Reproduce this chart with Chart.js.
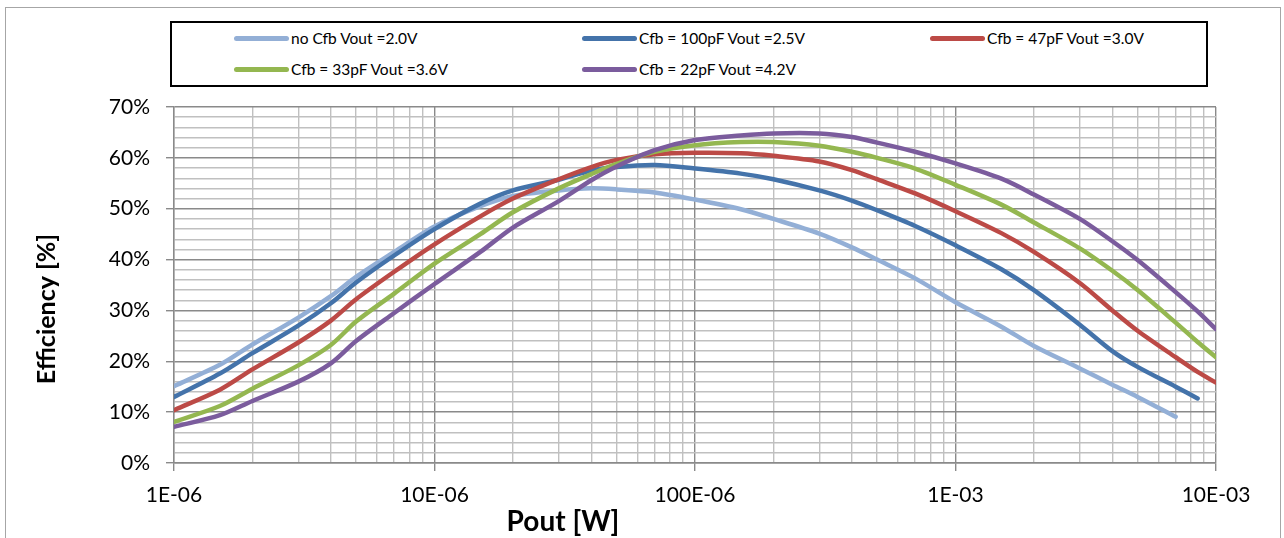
<!DOCTYPE html>
<html>
<head>
<meta charset="utf-8">
<script src="https://cdn.jsdelivr.net/npm/chart.js@4.4.1/dist/chart.umd.min.js"></script>
<style>
  html, body { margin: 0; padding: 0; background: #fff; }
  #wrap { position: relative; width: 1284px; height: 538px; overflow: hidden; font-family: Lato, "Open Sans", sans-serif; }
  #frame { position: absolute; left: 5px; top: 7px; width: 1276px; height: 560px; border: 1.5px solid #a6a6a6; box-sizing: border-box; }
  #c { position: absolute; left: 0; top: 0; }
  #legend { position: absolute; left: 170px; top: 21px; width: 1038px; height: 66px; border: 2px solid #000; box-sizing: border-box; background: #fff; }
  .item { position: absolute; display: flex; align-items: center; font-size: 15.5px; color: #000; white-space: nowrap; }
  .item .swatch { width: 55px; height: 5px; border-radius: 3px; margin-right: 2px; }
</style>
</head>
<body>
<div id="wrap">
  <div id="frame"></div>
  <canvas id="c" width="1284" height="538"></canvas>
  <div id="legend"></div>
</div>
<script>
// output power (W), shared by all curves
const pout = [1e-6, 1.5e-6, 2e-6, 3e-6, 4e-6, 5e-6, 7e-6,
              1e-5, 1.5e-5, 2e-5, 3e-5, 4e-5, 5e-5, 7e-5,
              1e-4, 1.5e-4, 2e-4, 3e-4, 4e-4, 5e-4, 7e-4,
              1e-3, 1.5e-3, 2e-3, 3e-3, 4e-3, 5e-3, 7e-3, 8.5e-3, 1e-2];

// efficiency in %
const effNoCfb = [15.1, 19.3, 23.3, 28.6, 32.8, 36.6, 41.5,
                  46.5, 50.5, 52.5, 53.6, 54.0, 53.8, 53.2,
                  51.8, 49.9, 48.0, 45.1, 42.4, 40.0, 36.3,
                  31.6, 26.8, 23.0, 18.6, 15.4, 13.0, 9.1, null, null];
const effCfb100 = [13.0, 17.6, 21.6, 27.0, 31.4, 35.5, 40.8,
                   46.0, 51.0, 53.6, 55.7, 57.5, 58.2, 58.6,
                   57.9, 56.9, 55.8, 53.6, 51.6, 49.7, 46.6,
                   42.8, 38.1, 34.0, 27.2, 22.0, 18.9, 15.0, 12.7, null];
const effCfb47 = [10.4, 14.4, 18.4, 23.7, 28.0, 32.2, 37.6,
                  43.0, 48.5, 52.0, 55.8, 58.2, 59.6, 60.7,
                  61.0, 60.9, 60.4, 59.3, 57.6, 55.8, 53.0,
                  49.5, 45.2, 41.5, 35.4, 30.0, 26.0, 20.8, 17.9, 15.8];
const effCfb33 = [8.1, 11.2, 14.6, 19.2, 23.2, 27.8, 33.3,
                  39.2, 45.0, 49.3, 54.0, 56.8, 58.8, 61.2,
                  62.5, 63.1, 63.1, 62.4, 61.2, 60.0, 57.9,
                  54.7, 50.8, 47.3, 42.2, 37.8, 34.0, 27.6, 23.8, 20.8];
const effCfb22 = [7.1, 9.4, 12.2, 16.0, 19.6, 24.0, 29.5,
                  35.2, 41.5, 46.3, 51.5, 55.6, 58.3, 61.5,
                  63.5, 64.4, 64.8, 64.8, 64.1, 63.0, 61.2,
                  58.9, 55.9, 52.8, 48.0, 43.6, 39.9, 33.6, 29.8, 26.3];

const seriesNames = ['no Cfb Vout =2.0V', 'Cfb = 100pF Vout =2.5V', 'Cfb = 47pF Vout =3.0V',
                     'Cfb = 33pF Vout =3.6V', 'Cfb = 22pF Vout =4.2V'];
const seriesColors = ['#93afd6', '#4473aa', '#bc4a46', '#94b750', '#7b5c9d'];
const seriesValues = [effNoCfb, effCfb100, effCfb47, effCfb33, effCfb22];

const xDecades = [1e-6, 1e-5, 1e-4, 1e-3, 1e-2];
const xTickLabels = ['1E-06', '10E-06', '100E-06', '1E-03', '10E-03'];

const MAJOR = '#8a8a8a';
const MINOR = '#c0c0c0';

function isDecade(v) {
    const l = Math.log10(v);
    return Math.abs(l - Math.round(l)) < 1e-6;
}

const datasets = seriesValues.map((vals, i) => ({
    label: seriesNames[i],
    data: pout.map((p, j) => ({ x: p, y: vals[j] })).filter(pt => pt.y !== null),
    borderColor: seriesColors[i],
    borderWidth: 4.5,
    pointRadius: 0,
    fill: false,
    tension: 0.3,
    borderCapStyle: 'round',
    borderJoinStyle: 'round',
    order: 4 - i,
}));

const axisTitles = {
    id: 'axisTitles',
    afterDraw(chart) {
        const ctx = chart.ctx;
        const a = chart.chartArea;
        ctx.save();
        ctx.fillStyle = '#000';
        ctx.textAlign = 'center';
        ctx.textBaseline = 'middle';
        ctx.font = 'bold 28px Lato';
        ctx.fillText('Pout [W]', a.left + 389, 522);
        ctx.font = 'bold 25px Lato';
        ctx.translate(47, a.top + 202);
        ctx.rotate(-Math.PI / 2);
        ctx.fillText('Efficiency [%]', 0, 0);
        ctx.restore();
    }
};

const ctx = document.getElementById('c').getContext('2d');
const chart = new Chart(ctx, {
    type: 'line',
    data: { datasets },
    options: {
        responsive: false,
        animation: false,
        devicePixelRatio: 1,
        layout: { padding: { left: 8, top: 107, right: 68, bottom: 0 } },
        plugins: { legend: { display: false }, tooltip: { enabled: false } },
        scales: {
            x: {
                type: 'logarithmic',
                min: 1e-6,
                max: 1e-2,
                afterFit(scale) { scale.height = 75; },
                afterBuildTicks(scale) {
                    const t = [];
                    xDecades.forEach((d, k) => {
                        if (k === xDecades.length - 1) { t.push({ value: d }); return; }
                        for (let m = 1; m <= 9; m++) t.push({ value: m * d });
                    });
                    scale.ticks = t;
                },
                ticks: {
                    autoSkip: false,
                    maxRotation: 0,
                    padding: 12,
                    color: '#000',
                    font: { family: 'Lato', size: 21 },
                    callback(v) {
                        const k = xDecades.findIndex(d => Math.abs(d - v) / d < 1e-6);
                        return k >= 0 ? xTickLabels[k] : '';
                    }
                },
                grid: {
                    color: c => isDecade(c.tick.value) ? MAJOR : MINOR,
                    tickColor: c => isDecade(c.tick.value) ? MAJOR : 'rgba(0,0,0,0)',
                    lineWidth: 1.4,
                    tickLength: 8,
                },
                border: { color: MAJOR, width: 1.4 },
            },
            y: {
                min: 0,
                max: 70,
                afterFit(scale) { scale.width = 166; },
                ticks: {
                    stepSize: 2,
                    autoSkip: false,
                    padding: 16,
                    color: '#000',
                    font: { family: 'Lato', size: 21 },
                    callback(v) { return v % 10 === 0 ? v + '%' : ''; }
                },
                grid: {
                    color: c => c.tick.value % 10 === 0 ? MAJOR : MINOR,
                    tickColor: c => c.tick.value % 10 === 0 ? MAJOR : 'rgba(0,0,0,0)',
                    lineWidth: 1.4,
                    tickLength: 8,
                },
                border: { color: MAJOR, width: 1.4 },
            },
        },
    },
    plugins: [axisTitles],
});

// legend box laid out like the original (3 columns, 2 rows)
const legendPos = [[62, 17], [410, 17], [758, 17], [62, 48], [410, 48]];
const legend = document.getElementById('legend');
seriesNames.forEach((name, i) => {
    const el = document.createElement('div');
    el.className = 'item';
    el.style.left = legendPos[i][0] + 'px';
    el.style.top = (legendPos[i][1] - 11) + 'px';
    el.innerHTML = '<span class="swatch" style="background:' + seriesColors[i] + '"></span><span>' + name + '</span>';
    legend.appendChild(el);
});
</script>
</body>
</html>
